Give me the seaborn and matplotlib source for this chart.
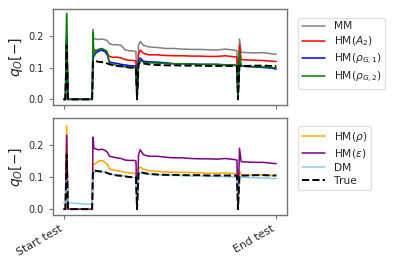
import numpy as np
import pandas as pd
import matplotlib
matplotlib.use("Agg")
import matplotlib.pyplot as plt
import seaborn as sns

# time axis (arbitrary units, 0 = start test, 1000 = end test)
t = [0, 8, 14, 20, 60, 100, 134, 138, 142, 150, 165, 180, 195, 205, 215, 230,
     250, 270, 290, 310, 330, 340, 345, 352, 360, 375, 400, 440, 480, 520, 560,
     600, 640, 680, 720, 760, 800, 815, 820, 827, 835, 860, 900, 940, 980, 1000]

true_q = [0, 0, 0.17, 0, 0, 0, 0, 0.12, 0.12, 0.12, 0.118, 0.117, 0.115, 0.113, 0.11, 0.108,
          0.105, 0.104, 0.102, 0.1, 0.1, 0.099, 0.0, 0.11, 0.117, 0.113, 0.11, 0.108, 0.107, 0.107, 0.106,
          0.106, 0.106, 0.105, 0.105, 0.105, 0.105, 0.104, 0.0, 0.105, 0.105, 0.105, 0.106, 0.106, 0.105, 0.105]

mm = [0, 0, 0.27, 0, 0, 0, 0, 0.22, 0.19, 0.19, 0.188, 0.19, 0.187, 0.185, 0.175, 0.172,
      0.172, 0.17, 0.155, 0.153, 0.152, 0.15, 0.0, 0.17, 0.182, 0.17, 0.165, 0.163, 0.16, 0.16, 0.158,
      0.157, 0.157, 0.156, 0.155, 0.158, 0.155, 0.153, 0.0, 0.19, 0.148, 0.147, 0.146, 0.147, 0.143, 0.142]

hm_a2 = [0, 0, 0.2, 0, 0, 0, 0, 0.16, 0.155, 0.155, 0.153, 0.155, 0.15, 0.145, 0.135, 0.132,
         0.133, 0.13, 0.125, 0.123, 0.122, 0.12, 0.0, 0.14, 0.155, 0.145, 0.14, 0.14, 0.138, 0.137, 0.137,
         0.136, 0.136, 0.135, 0.135, 0.137, 0.134, 0.133, 0.0, 0.17, 0.125, 0.124, 0.123, 0.122, 0.12, 0.119]

hm_rg1 = [0, 0, 0.2, 0, 0, 0, 0, 0.13, 0.135, 0.145, 0.152, 0.155, 0.15, 0.14, 0.118, 0.115,
          0.113, 0.11, 0.108, 0.106, 0.105, 0.104, 0.0, 0.12, 0.13, 0.12, 0.118, 0.117, 0.115, 0.112, 0.112,
          0.111, 0.11, 0.11, 0.11, 0.108, 0.107, 0.106, 0.0, 0.13, 0.105, 0.103, 0.102, 0.1, 0.098, 0.095]

hm_rg2 = [0, 0, 0.27, 0, 0, 0, 0, 0.21, 0.14, 0.15, 0.158, 0.16, 0.155, 0.15, 0.112, 0.11,
          0.107, 0.105, 0.102, 0.1, 0.1, 0.099, 0.0, 0.115, 0.122, 0.117, 0.115, 0.114, 0.113, 0.112, 0.112,
          0.111, 0.11, 0.11, 0.11, 0.109, 0.108, 0.107, 0.0, 0.15, 0.105, 0.104, 0.103, 0.102, 0.1, 0.1]

hm_rho = [0, 0, 0.26, 0, 0, 0, 0, 0.14, 0.14, 0.143, 0.15, 0.152, 0.145, 0.14, 0.125, 0.123,
          0.12, 0.118, 0.115, 0.113, 0.112, 0.11, 0.0, 0.125, 0.132, 0.125, 0.12, 0.118, 0.116, 0.115, 0.115,
          0.114, 0.113, 0.112, 0.112, 0.113, 0.111, 0.11, 0.0, 0.12, 0.107, 0.106, 0.106, 0.106, 0.105, 0.105]

hm_eps = [0, 0, 0.23, 0, 0, 0, 0, 0.225, 0.19, 0.188, 0.185, 0.187, 0.183, 0.178, 0.165, 0.163,
          0.16, 0.158, 0.153, 0.152, 0.152, 0.15, 0.0, 0.17, 0.185, 0.17, 0.165, 0.165, 0.162, 0.16, 0.16,
          0.158, 0.157, 0.157, 0.156, 0.158, 0.155, 0.153, 0.0, 0.19, 0.148, 0.147, 0.146, 0.146, 0.143, 0.142]

dm = [0.02, 0.02, 0.1, 0.02, 0.018, 0.016, 0.015, 0.11, 0.112, 0.118, 0.12, 0.118, 0.115, 0.113, 0.11, 0.108,
      0.106, 0.105, 0.103, 0.1, 0.099, 0.098, 0.0, 0.11, 0.115, 0.112, 0.109, 0.107, 0.106, 0.105, 0.105,
      0.104, 0.104, 0.103, 0.102, 0.102, 0.1, 0.1, 0.0, 0.1, 0.1, 0.099, 0.098, 0.097, 0.096, 0.095]

xtick_pos = [0, 1000]
xtick_labels = ["Start test", "End test"]

top_series = [("MM", mm, "gray"), (r"HM($A_2$)", hm_a2, "red"),
              (r"HM($\rho_{G,1}$)", hm_rg1, "blue"), (r"HM($\rho_{G,2}$)", hm_rg2, "green")]
bot_series = [(r"HM($\rho$)", hm_rho, "orange"), (r"HM($\varepsilon$)", hm_eps, "purple"),
              ("DM", dm, "skyblue")]

sns.set_style("ticks")
plt.rcParams["font.family"] = ["DejaVu Sans"]

fig = plt.figure(figsize=(3.99, 2.66), dpi=100)
ax1 = fig.add_axes([0.133, 0.605, 0.586, 0.361])
ax2 = fig.add_axes([0.133, 0.192, 0.586, 0.364], sharex=ax1)

for lab, vals, col in top_series:
    sns.lineplot(x=t, y=vals, ax=ax1, color=col, label=lab, linewidth=1.1)
sns.lineplot(x=t, y=true_q, ax=ax1, color="black", linestyle="--", linewidth=1.4, label="_nolegend_")

for lab, vals, col in bot_series:
    sns.lineplot(x=t, y=vals, ax=ax2, color=col, label=lab, linewidth=1.1)
sns.lineplot(x=t, y=true_q, ax=ax2, color="black", linestyle="--", linewidth=1.4, label="True")

for ax in (ax1, ax2):
    ax.set_ylim(-0.018, 0.284)
    ax.set_yticks([0.0, 0.1, 0.2])
    ax.set_yticklabels(["0.0", "0.1", "0.2"])
    ax.tick_params(axis="y", labelsize=7, length=3, width=0.8, color="0.45")
    ax.tick_params(axis="x", length=3, width=0.8, color="0.45")
    ax.set_ylabel(r"$q_O[-]$", fontsize=10)
    for sp in ax.spines.values():
        sp.set_visible(True)
        sp.set_color("0.45")
        sp.set_linewidth(1.0)

ax1.set_xlim(-50, 1050)
ax1.set_xticks(xtick_pos)
ax1.tick_params(axis="x", labelbottom=False)
ax2.set_xticks(xtick_pos)
ax2.set_xticklabels(xtick_labels, rotation=30, ha="right", fontsize=7.8)
ax2.set_xlabel("")
ax1.set_xlabel("")

ax1.yaxis.set_label_coords(-0.12, 0.5)
ax2.yaxis.set_label_coords(-0.12, 0.5)

leg_kw = dict(loc="upper left", fontsize=7.7, borderaxespad=0, frameon=True,
              handlelength=2.2, labelspacing=0.3, framealpha=0.8, edgecolor="0.85",
              borderpad=0.35)
ax1.legend(bbox_to_anchor=(1.047, 0.91), **leg_kw)
ax2.legend(bbox_to_anchor=(1.047, 0.92), **leg_kw)

fig.savefig("out.png", dpi=100)
